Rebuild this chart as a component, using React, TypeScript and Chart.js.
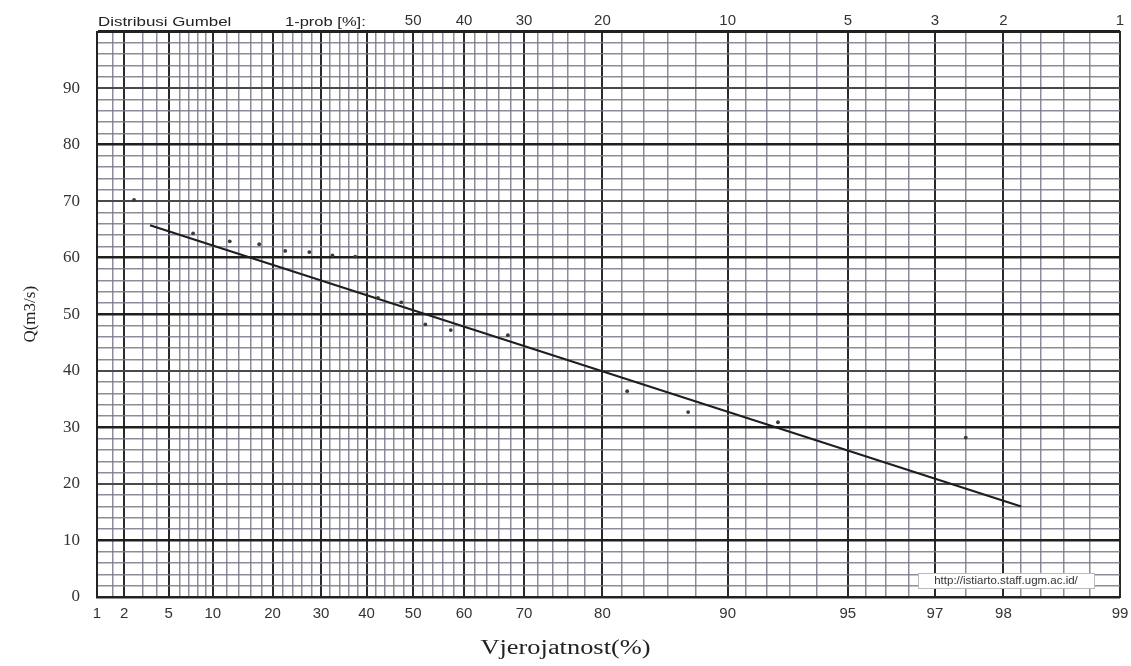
import React, { useEffect, useRef } from "react";
import { Chart, registerables } from "chart.js";

Chart.register(...registerables);

// Gumbel reduced variate for a probability given in percent
const gumbel = (pct: number) => -Math.log(-Math.log(pct / 100));

// Bottom axis: labelled probabilities (%)
const probLabels = [1, 2, 5, 10, 20, 30, 40, 50, 60, 70, 80, 90, 95, 97, 98, 99];
// Bottom axis: unlabelled minor grid probabilities (%)
const probMinor = [
  1.5, 3, 4, 6, 7, 8, 9, 12, 14, 16, 18, 22, 24, 26, 28, 32, 34, 36, 38, 42, 44, 46, 48,
  52, 54, 56, 58, 62, 64, 66, 68, 72, 74, 76, 78, 82, 84, 86, 88, 91, 92, 93, 94,
  95.5, 96, 96.5, 97.5, 98.2, 98.4, 98.6, 98.8,
];
// Top axis: 1-prob labels
const topProbs = [50, 60, 70, 80, 90, 95, 97, 98, 99];
const topLabels = ["50", "40", "30", "20", "10", "5", "3", "2", "1"];

// Y axis
const qMin = 0;
const qMax = 100;
const qStep = 2;
const qThick = [0, 10, 30, 50, 60, 80, 100];

// Observed points
const obsProb = [2.5, 7.5, 12.5, 17.5, 22.5, 27.5, 32.5, 37.5, 42.5, 47.5, 52.5, 57.5, 67.5, 82.5, 87.5, 92.5, 97.5];
const obsQ = [70.2, 64.3, 62.9, 62.4, 61.2, 61.0, 60.4, 60.2, 52.9, 52.1, 48.2, 47.2, 46.3, 36.4, 32.7, 30.9, 28.2];

// Fitted Gumbel line
const fitProb = [3.5, 98.2];
const fitQ = [65.75, 16.0];

const xGridProbs = [...probLabels, ...probMinor].sort((a, b) => a - b);

const SANS = '"Liberation Sans", Arial, sans-serif';
const SERIF = '"Liberation Serif", "Times New Roman", serif';
const MINOR = "rgba(120,120,138,0.85)";

const stretchText = (ctx: any, text: string, x: number, y: number, sx: number, align: string) => {
  ctx.save();
  ctx.translate(x, y);
  ctx.scale(sx, 1);
  ctx.textAlign = align;
  ctx.fillText(text, 0, 0);
  ctx.restore();
};

const textPlugin = {
  id: "gumbelTexts",
  afterDraw(chart: any) {
    const { ctx, chartArea } = chart;
    ctx.save();
    ctx.fillStyle = "#222";
    ctx.textBaseline = "middle";
    ctx.font = `13px ${SANS}`;
    stretchText(ctx, "Distribusi Gumbel", chartArea.left + 1, chartArea.top - 9, 1.3, "left");
    stretchText(ctx, "1-prob [%]:", chartArea.left + 188, chartArea.top - 9, 1.27, "left");

    // url box
    const bx = chartArea.right - 202;
    const by = chartArea.bottom - 24;
    const bw = 176;
    const bh = 15;
    ctx.fillStyle = "#fff";
    ctx.fillRect(bx, by, bw, bh);
    ctx.strokeStyle = "#bbb";
    ctx.lineWidth = 1;
    ctx.strokeRect(bx + 0.5, by + 0.5, bw, bh);
    ctx.fillStyle = "#333";
    ctx.font = `10px ${SANS}`;
    stretchText(ctx, "http://istiarto.staff.ugm.ac.id/", bx + bw / 2, by + bh / 2 + 1, 1.15, "center");

    // x axis title
    ctx.fillStyle = "#222";
    ctx.font = `20px ${SERIF}`;
    stretchText(ctx, "Vjerojatnost(%)", chart.width / 2, chartArea.bottom + 52, 1.32, "center");
    ctx.restore();
  },
};

export default function App() {
  const ref = useRef<HTMLCanvasElement | null>(null);

  useEffect(() => {
    if (!ref.current) return;
    const xMin = gumbel(probLabels[0]);
    const xMax = gumbel(probLabels[probLabels.length - 1]);

    const chart = new Chart(ref.current, {
      type: "scatter",
      data: {
        datasets: [
          {
            label: "Data",
            data: obsProb.map((p, i) => ({ x: gumbel(p), y: obsQ[i] })),
            pointRadius: 1.9,
            pointBackgroundColor: "#3a3a3a",
            pointBorderWidth: 0,
          },
          {
            type: "line",
            label: "Gumbel",
            data: fitProb.map((p, i) => ({ x: gumbel(p), y: fitQ[i] })),
            borderColor: "#1e1e1e",
            borderWidth: 2,
            pointRadius: 0,
            fill: false,
          } as any,
        ],
      },
      options: {
        animation: false,
        responsive: false,
        layout: { padding: { left: 0, right: 11, top: 0, bottom: 0 } },
        plugins: { legend: { display: false }, tooltip: { enabled: false } },
        scales: {
          x: {
            type: "linear",
            position: "bottom",
            min: xMin,
            max: xMax,
            afterBuildTicks: (scale: any) => {
              scale.ticks = xGridProbs.map((p) => ({ value: gumbel(p) }));
            },
            afterFit: (scale: any) => {
              scale.height = 69;
              scale.paddingRight = 0;
              scale.paddingLeft = 0;
            },
            ticks: {
              autoSkip: false,
              maxRotation: 0,
              padding: 8,
              color: "#333",
              font: { family: SANS, size: 15 },
              callback: (_v: any, i: number) => {
                const p = xGridProbs[i];
                return probLabels.includes(p) ? String(p) : "";
              },
            },
            grid: {
              drawTicks: false,
              color: (ctx: any) => (probLabels.includes(xGridProbs[ctx.index]) ? "#2a2a2a" : MINOR),
              lineWidth: (ctx: any) => (probLabels.includes(xGridProbs[ctx.index]) ? 2 : 1.5),
            },
            border: { color: "#222", width: 2 },
          },
          x2: {
            type: "linear",
            axis: "x",
            position: "top",
            min: xMin,
            max: xMax,
            afterBuildTicks: (scale: any) => {
              scale.ticks = topProbs.map((p) => ({ value: gumbel(p) }));
            },
            afterFit: (scale: any) => {
              scale.height = 31.5;
              scale.paddingRight = 0;
              scale.paddingLeft = 0;
            },
            ticks: {
              autoSkip: false,
              maxRotation: 0,
              padding: 2,
              color: "#333",
              font: { family: SANS, size: 15 },
              callback: (_v: any, i: number) => topLabels[i],
            },
            grid: { display: false, drawTicks: false },
            border: { color: "#222", width: 2 },
          } as any,
          y: {
            type: "linear",
            min: qMin,
            max: qMax,
            afterFit: (scale: any) => {
              scale.width = 97;
              scale.paddingTop = 0;
              scale.paddingBottom = 0;
            },
            ticks: {
              stepSize: qStep,
              autoSkip: false,
              padding: 17,
              color: "#333",
              font: { family: SERIF, size: 17 },
              callback: (v: any) => (v % 10 === 0 && v < qMax ? String(v) : ""),
            },
            grid: {
              drawTicks: false,
              color: (ctx: any) => {
                const v = ctx.tick.value;
                if (qThick.includes(v)) return "#1f1f1f";
                if (v % 10 === 0) return "#4a4a4a";
                return MINOR;
              },
              lineWidth: (ctx: any) => {
                const v = ctx.tick.value;
                if (qThick.includes(v)) return 2.5;
                if (v % 10 === 0) return 2;
                return 1.5;
              },
            },
            border: { color: "#222", width: 2 },
            title: {
              display: true,
              text: "Q(m3/s)",
              color: "#222",
              font: { family: SERIF, size: 17 },
              padding: { top: 20, bottom: 0 },
            },
          },
        },
      },
      plugins: [textPlugin],
    } as any);

    return () => chart.destroy();
  }, []);

  return (
    <div style={{ position: "fixed", left: 0, top: 0, width: 1131, height: 666, background: "#fff" }}>
      <canvas ref={ref} width={1131} height={666} style={{ display: "block" }} />
    </div>
  );
}
